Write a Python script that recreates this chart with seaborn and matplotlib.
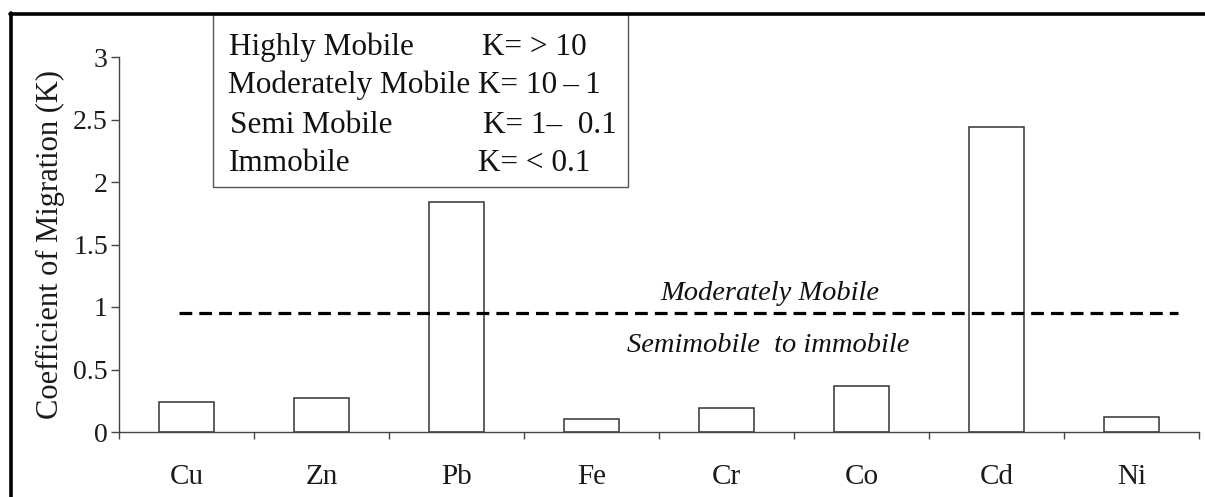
import matplotlib
matplotlib.use("Agg")
import matplotlib.pyplot as plt
import seaborn as sns
import pandas as pd
import numpy as np
from matplotlib.patches import Rectangle
from matplotlib.lines import Line2D

# ---- data ----
elements = ["Cu", "Zn", "Pb", "Fe", "Cr", "Co", "Cd", "Ni"]
k_values = [0.24, 0.27, 1.84, 0.107, 0.19, 0.37, 2.44, 0.12]
y_ticks = [0, 0.5, 1, 1.5, 2, 2.5, 3]
y_tick_labels = ["0", "0.5", "1", "1.5", "2", "2.5", "3"]
threshold = 0.95
class_names = ["Highly Mobile", "Moderately Mobile", "Semi Mobile", "Immobile"]
class_ranges = ["K= > 10", "K= 10\u2009\u2013\u20091", "K= 1\u2013  0.1", "K= < 0.1"]
label_above = "Moderately Mobile"
label_below = "Semimobile  to immobile"
y_label = "Coefficient of Migration (K)"

df = pd.DataFrame({"element": elements, "K": k_values})

sns.set_theme(style="white")
plt.rcParams["font.family"] = ["Liberation Serif", "DejaVu Serif"]

W, H = 1205, 497
fig = plt.figure(figsize=(W / 100, H / 100), dpi=100)
ax = fig.add_axes([119 / W, (H - 432) / H, 1080 / W, 375 / H])

sns.barplot(data=df, x="element", y="K", color="white", edgecolor="#333333",
            linewidth=1.1, width=0.41, ax=ax, saturation=1)

ax.set_ylim(0, 3)
ax.set_xlim(-0.5, len(elements) - 0.5)
ax.set_yticks(y_ticks)
ax.set_yticklabels(y_tick_labels)
ax.set_xticks(range(len(elements)))
ax.set_xticklabels(elements)
ax.set_xticks(np.arange(-0.5, len(elements), 1.0), minor=True)
ax.set_xlabel("")
ax.set_ylabel(y_label, fontsize=22, color="#1a1a1a", labelpad=6)

for s in ["top", "right"]:
    ax.spines[s].set_visible(False)
for s in ["left", "bottom"]:
    ax.spines[s].set_color("#444444")
    ax.spines[s].set_linewidth(1.0)

ax.tick_params(axis="y", which="major", direction="out", length=6, width=1,
               color="#444444", left=True, labelsize=20, pad=2, labelcolor="#1a1a1a")
ax.tick_params(axis="x", which="major", length=0, labelsize=21, pad=23,
               labelcolor="#1a1a1a")
ax.tick_params(axis="x", which="minor", direction="out", length=5, width=1,
               color="#444444", bottom=True)

# threshold dashed line
ax.axhline(threshold, xmin=0.056, xmax=0.981, color="black", lw=2.3,
           dashes=(4, 2.2))
ax.text(4.32, 1.11, label_above, ha="center", va="center", fontsize=20.5,
        style="italic", color="#111111")
ax.text(4.31, 0.69, label_below, ha="center", va="center", fontsize=20.5,
        style="italic", color="#111111")

# legend-like box in figure pixel coords
def fx(px):
    return px / W

def fy(py):
    return (H - py) / H

fig.patches.append(Rectangle((fx(212.5), fy(187)), fx(628) - fx(212.5),
                             fy(14) - fy(187), transform=fig.transFigure,
                             fill=False, edgecolor="#555555", lw=1.0))
baselines = [55, 93, 133, 171]
name_x = [229, 228, 230, 229]
range_x = [482, 478, 483, 478]
for nm, rg, b, nx, rx in zip(class_names, class_ranges, baselines, name_x, range_x):
    fig.text(fx(nx), fy(b), nm, ha="left", va="baseline", fontsize=22.5, color="#111111")
    fig.text(fx(rx), fy(b), rg, ha="left", va="baseline", fontsize=22.5, color="#111111")

# outer frame (top and left only visible)
fig.lines.append(Line2D([fx(10), fx(1210)], [fy(13.5), fy(13.5)],
                        transform=fig.transFigure, color="black", lw=2.6))
fig.lines.append(Line2D([fx(10.5), fx(10.5)], [fy(12.5), fy(500)],
                        transform=fig.transFigure, color="black", lw=2.6))

fig.savefig("out.png", dpi=100, facecolor="white")
